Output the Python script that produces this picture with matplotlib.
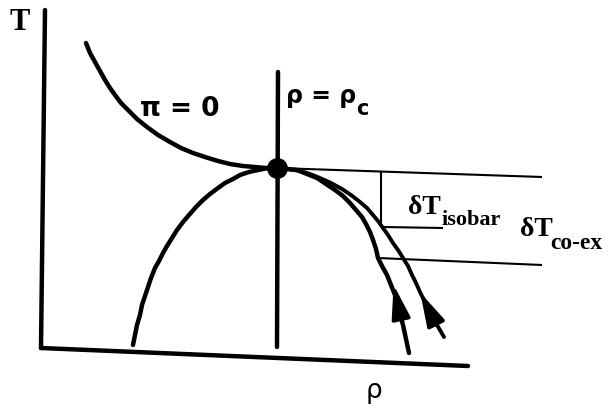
import numpy as np
import matplotlib
matplotlib.use("Agg")
import matplotlib.pyplot as plt

# curve points in picture units (x to the right, y downward)
pi_zero_x = [86, 90, 95, 100, 105, 110, 115, 121, 128, 137, 147, 158, 170, 181, 193, 205, 218, 230, 243, 255, 266, 277]
pi_zero_y = [43, 53, 62, 71, 80, 88, 95, 103, 110, 119, 127, 135, 142, 148, 153, 157, 161, 164, 166, 167, 168, 168]

dome_left_x = [133, 135, 137, 140, 142, 145, 148, 151, 155, 159, 163, 167, 172, 177, 183, 189, 196, 203, 210, 218, 225, 233, 240, 249, 258, 268, 277]
dome_left_y = [345, 335, 325, 315, 305, 296, 287, 278, 268, 261, 253, 246, 238, 230, 222, 215, 207, 200, 194, 188, 183, 179, 175, 172, 170, 168, 168]

coex_x = [277, 287, 297, 307, 317, 326, 335, 343, 350, 356, 362, 366, 370, 373, 376, 378, 382, 387, 391, 395, 399, 403, 406, 409]
coex_y = [168, 169, 170, 174, 178, 184, 190, 196, 203, 210, 217, 224, 232, 240, 249, 258, 266, 275, 285, 295, 310, 325, 339, 353]

isobar_x = [277, 288, 300, 310, 320, 331, 342, 351, 360, 367, 373, 378, 383, 388, 393, 398, 403, 408, 412, 416, 420, 425, 430, 437, 444]
isobar_y = [168, 169, 171, 174, 178, 183, 189, 195, 202, 208, 215, 221, 228, 235, 243, 250, 258, 266, 275, 283, 292, 302, 312, 325, 337]

critical = (277, 168)

# guide lines marking the two temperature gaps
top_line = ([277, 542], [168, 177])
gap_tick = ([381, 381], [172, 226])
isobar_line = ([383, 443], [227, 228])
coex_line = ([378, 542], [258, 265])

# axes drawn by hand, slightly tilted like the sketch
y_axis = ([45, 41], [10, 348])
x_axis = ([41, 468], [348, 366])
rho_c_line = ([278, 277], [72, 347])

fig = plt.figure(figsize=(6.11, 4.11), dpi=100)
ax = fig.add_axes([0, 0, 1, 1])
ax.set_xlim(0, 611)
ax.set_ylim(411, 0)
ax.axis("off")

thick = dict(color="black", lw=3.2, solid_capstyle="round", solid_joinstyle="round")
thin = dict(color="black", lw=1.5, solid_capstyle="butt")

ax.plot(*y_axis, **thick)
ax.plot(*x_axis, **thick)
ax.plot(*rho_c_line, **thick)

ax.plot(pi_zero_x, pi_zero_y, **thick)
ax.plot(dome_left_x, dome_left_y, **thick)
ax.plot(coex_x, coex_y, **thick)
ax.plot(isobar_x, isobar_y, lw=2.8, color="black",
        solid_capstyle="round", solid_joinstyle="round")

for line in (top_line, gap_tick, isobar_line, coex_line):
    ax.plot(*line, **thin)

ax.plot(*critical, "o", color="black", ms=14)

# arrows running up the two branches
arrow = dict(arrowstyle="-|>,head_length=0.8,head_width=0.22",
             color="black", lw=2.5, mutation_scale=26)
ax.annotate("", xy=(393, 282), xytext=(400, 314), arrowprops=arrow)
ax.annotate("", xy=(419, 290), xytext=(433, 318), arrowprops=arrow)

serif = "Liberation Serif"
ax.text(20, 30, "T", fontsize=22, family=serif, fontweight="bold",
        ha="center", va="baseline")
ax.text(374, 398, "ρ", fontsize=19, ha="center", va="baseline")

ax.text(180, 116, "π = 0", fontsize=19, fontweight="bold",
        ha="center", va="baseline")
ax.text(286, 103, "ρ = ρ", fontsize=17, fontweight="bold",
        ha="left", va="baseline")
ax.text(356, 115, "c", fontsize=15, fontweight="bold",
        ha="left", va="baseline")

ax.text(408, 214, "δT", fontsize=20, family=serif, fontweight="bold",
        ha="left", va="baseline")
ax.text(441, 225, "isobar", fontsize=16, family=serif, fontweight="bold",
        ha="left", va="baseline")
ax.text(520, 236, "δT", fontsize=20, family=serif, fontweight="bold",
        ha="left", va="baseline")
ax.text(550, 249, "co-ex", fontsize=17, family=serif, fontweight="bold",
        ha="left", va="baseline")

fig.savefig("out.png", dpi=100)
